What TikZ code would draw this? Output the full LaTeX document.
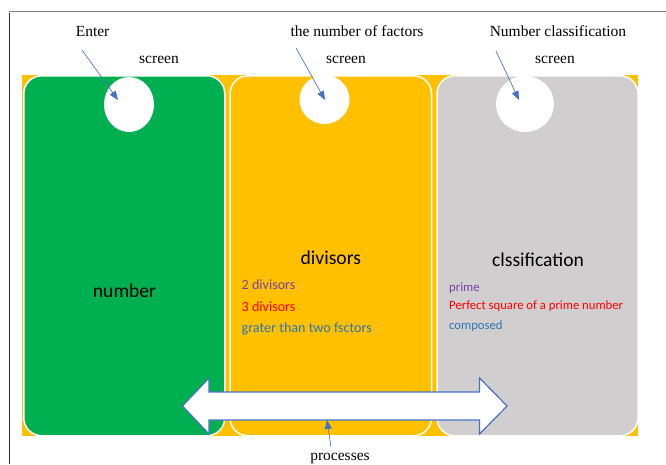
\documentclass[tikz,border=0pt]{standalone}
\usepackage{fontspec}
\setmainfont{Liberation Serif}
\newfontfamily\carlitofont{Carlito}
\usetikzlibrary{shapes.geometric,arrows.meta}
\definecolor{bgorange}{HTML}{FFC000}
\definecolor{cgreen}{HTML}{00B050}
\definecolor{cgrey}{HTML}{D0CECE}
\definecolor{pblue}{HTML}{4472C4}
\definecolor{tpurple}{HTML}{7A3FA6}
\definecolor{tred}{HTML}{FF0000}
\definecolor{tblue}{HTML}{2E75B6}
\definecolor{framecol}{HTML}{808080}
\definecolor{framedark}{HTML}{2A2A2A}
\tikzset{
  card/.style={draw=white, line width=1.5pt, rounded corners=18pt, minimum height=360pt, inner sep=0pt},
  hole/.style={ellipse, fill=white, inner sep=0pt},
  note/.style={font=\fontsize{15.5}{18}\selectfont, anchor=base, inner sep=0pt},
  big/.style={font=\carlitofont\fontsize{19.6}{22}\selectfont, anchor=base, inner sep=0pt},
  lsmall/.style={font=\carlitofont\fontsize{14.1}{16}\selectfont, anchor=base west, inner sep=0pt},
  rsmall/.style={font=\carlitofont\fontsize{12.7}{15}\selectfont, anchor=base west, inner sep=0pt},
  ptr/.style={draw=pblue, line width=0.6pt, -{Triangle[length=9pt,width=7pt]}, fill=pblue},
}
\begin{document}
\begin{tikzpicture}[x=1pt,y=-1pt]
\useasboundingbox (0,0) rectangle (666,464);
% frame
\draw[framecol, line width=1pt] (8.5,11) -- (666,11);
\draw[framedark, line width=1pt] (9,13) -- (9,464);
% background
\fill[bgorange] (22,75) rectangle (638,436);
% cards
\node[card, fill=cgreen, minimum width=201pt] (c1) at (124.25,255.75) {};
\node[card, fill=bgorange, minimum width=201.5pt] (c2) at (330.75,255.75) {};
\node[card, fill=cgrey, minimum width=201pt] (c3) at (537.5,255.75) {};
% holes
\node[hole, minimum width=50pt, minimum height=55pt] (h1) at (129,104.5) {};
\node[hole, minimum width=50pt, minimum height=49pt] (h2) at (324.5,99.5) {};
\node[hole, minimum width=58pt, minimum height=56pt] (h3) at (525,104) {};
% top notes
\node[note] (n1) at (92.6,36) {Enter};
\node[note] (n1s) at (159,63) {screen};
\node[note] (n2) at (357,36) {the number of factors};
\node[note] (n2s) at (346,63) {screen};
\node[note] (n3) at (558,36) {Number classification};
\node[note] (n3s) at (555,63) {screen};
% pointers
\coordinate (s1) at (82,50);
\coordinate (t1) at (118,100);
\coordinate (s2) at (296,48);
\coordinate (t2) at (325,100);
\coordinate (s3) at (496,51);
\coordinate (t3) at (519,100);
\draw[ptr] (s1) -- (t1);
\draw[ptr] (s2) -- (t2);
\draw[ptr] (s3) -- (t3);
% card labels
\node[big] (l1) at (124.5,297.7) {number};
\node[big] (l2) at (330.8,264) {divisors};
\node[big] (l3) at (538,266) {clssification};
\node[lsmall, text=tpurple] (d1) at (241.5,289.5) {2 divisors};
\node[lsmall, text=tred] (d2) at (241.5,311.5) {3 divisors};
\node[lsmall, text=tblue] (d3) at (241.5,332.5) {grater than two fsctors};
\node[rsmall, text=tpurple] (k1) at (449,291) {prime};
\node[rsmall, text=tred] (k2) at (449,309.5) {Perfect square of a prime number};
\node[rsmall, text=tblue] (k3) at (449,329.5) {composed};
% double arrow
\draw[pblue, fill=white, line width=1.2pt, line join=miter]
  (182.5,406) -- (209,378) -- (209,392) -- (479.5,392) -- (479.5,378) -- (507,406)
  -- (479.5,434) -- (479.5,420) -- (209,420) -- (209,434) -- cycle;
% processes
\node[note] (pr) at (340,460) {processes};
\coordinate (ps) at (331,447);
\coordinate (pt) at (327,420);
\draw[ptr] (ps) -- (pt);
\end{tikzpicture}
\end{document}
